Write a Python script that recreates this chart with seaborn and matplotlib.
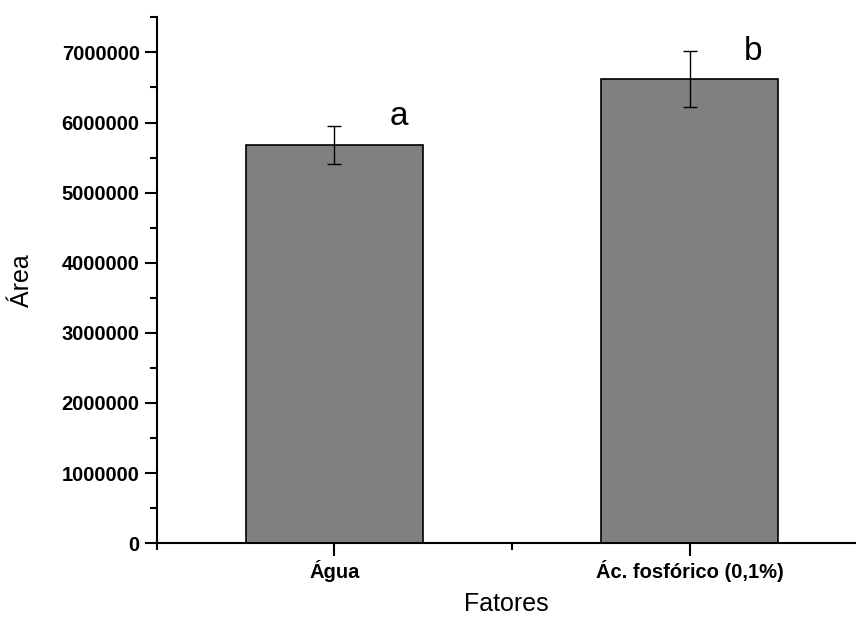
import numpy as np
import matplotlib
matplotlib.use('Agg')
import matplotlib.pyplot as plt
import seaborn as sns
from matplotlib.ticker import MultipleLocator

# dados
fatores = ['Água', 'Ác. fosfórico (0,1%)']
area = [5680000, 6620000]
erro = [270000, 400000]
letras = ['a', 'b']
letras_y = [5960000, 6890000]

sns.set_style('ticks', {'text.color': 'black', 'axes.labelcolor': 'black',
                        'xtick.color': 'black', 'ytick.color': 'black',
                        'axes.edgecolor': 'black'})
plt.rcParams['font.family'] = ['Liberation Sans', 'DejaVu Sans']

fig = plt.figure(figsize=(8.56, 6.2), dpi=100)
ax = fig.add_axes([0.1834, 0.124, 0.8166, 0.848])

sns.barplot(x=fatores, y=area, color='#808080', saturation=1,
            edgecolor='black', linewidth=1.2, width=0.5, ax=ax)
ax.errorbar(range(len(fatores)), area, yerr=erro, fmt='none',
            ecolor='black', elinewidth=1, capsize=5, capthick=1)

# letras de significância
for i, (yl, l) in enumerate(zip(letras_y, letras)):
    ax.text(i + 0.18, yl, l, fontsize=24, ha='center', va='baseline', color='black')

ax.set_xlim(-0.5, 1.469)
ax.set_ylim(0, 7500000)
ax.yaxis.set_major_locator(MultipleLocator(1000000))
ax.yaxis.set_minor_locator(MultipleLocator(500000))
ax.xaxis.set_minor_locator(MultipleLocator(0.5))
ax.yaxis.set_major_formatter(matplotlib.ticker.FuncFormatter(lambda v, p: f'{int(v)}'))

ax.tick_params(axis='both', which='major', length=9, width=1.5, direction='out', labelsize=14.5)
ax.tick_params(axis='both', which='minor', length=5, width=1.5, direction='out')
for lab in ax.get_xticklabels() + ax.get_yticklabels():
    lab.set_fontweight('bold')

sns.despine(ax=ax)
for s in ['left', 'bottom']:
    ax.spines[s].set_linewidth(1.5)
ax.spines['bottom'].set_clip_on(False)

ax.set_xlabel('Fatores', fontsize=18, labelpad=7)
ax.set_ylabel('Área', fontsize=18, labelpad=20)

fig.savefig('out.png', dpi=100)
